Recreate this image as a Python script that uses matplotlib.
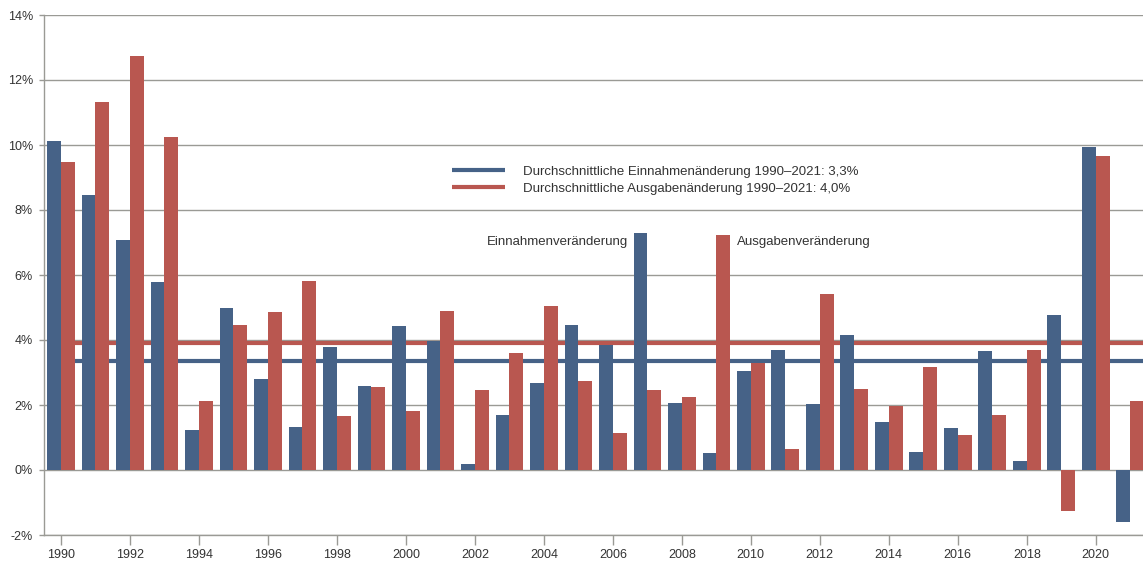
import numpy as np
import matplotlib
matplotlib.use('Agg')
import matplotlib.pyplot as plt
from matplotlib.ticker import FuncFormatter

plt.rcParams['font.family'] = ['Liberation Sans', 'DejaVu Sans']

# Data (percent change vs. previous year)
years = list(range(1990, 2022))
einnahmen = [10.12, 8.46, 7.08, 5.78, 1.23, 4.98, 2.80, 1.32, 3.78, 2.58,
             4.43, 3.97, 0.18, 1.69, 2.68, 4.46, 3.85, 7.29, 2.06, 0.52,
             3.05, 3.69, 2.03, 4.15, 1.48, 0.55, 1.29, 3.66, 0.28, 4.77,
             9.94, -1.60]
ausgaben = [9.48, 11.32, 12.74, 10.25, 2.12, 4.46, 4.86, 5.82, 1.66, 2.55,
            1.82, 4.89, 2.46, 3.60, 5.05, 2.74, 1.14, 2.46, 2.25, 7.23,
            3.29, 0.65, 5.42, 2.49, 1.97, 3.17, 1.08, 1.69, 3.69, -1.26,
            9.66, 2.12]
avg_einnahmen = 3.35
avg_ausgaben = 3.92
legend_labels = ['Durchschnittliche Einnahmenänderung 1990\u20132021: 3,3%',
                 'Durchschnittliche Ausgabenänderung 1990\u20132021: 4,0%']
yticks = [-2, 0, 2, 4, 6, 8, 10, 12, 14]
xticks = list(range(1990, 2021, 2))

BLUE = '#466287'
RED = '#B95750'
GRID = '#9a9a95'
TXT = '#333333'

fig = plt.figure(figsize=(11.43, 5.64), dpi=100)
ax = fig.add_axes([44 / 1143, 1 - 535 / 564, 1 - 44 / 1143, (535 - 15) / 564])

x = np.array(years, dtype=float)
w = 0.40
ax.bar(x - w, einnahmen, width=w, align='edge', color=BLUE, zorder=3)
ax.bar(x, ausgaben, width=w, align='edge', color=RED, zorder=3)

# average lines sit behind the bars
ax.plot([1990, 2022], [avg_einnahmen] * 2, color=BLUE, lw=3, zorder=2,
        solid_capstyle='butt', label=legend_labels[0])
ax.plot([1990, 2022], [avg_ausgaben] * 2, color=RED, lw=3, zorder=2,
        solid_capstyle='butt', label=legend_labels[1])

ax.set_xlim(1989.51, 2021.37)
ax.set_ylim(-2, 14)
ax.set_yticks(yticks)
ax.set_xticks(xticks)
ax.yaxis.set_major_formatter(FuncFormatter(lambda v, p: f'{int(v)}%'))
ax.grid(axis='y', color=GRID, lw=1.0, zorder=0)
ax.set_axisbelow(True)

for s in ['top', 'right']:
    ax.spines[s].set_visible(False)
for s in ['left', 'bottom']:
    ax.spines[s].set_color(GRID)
    ax.spines[s].set_linewidth(1.0)

ax.tick_params(axis='y', length=3.5, width=1.0, color=GRID, pad=4.5,
               labelsize=9, labelcolor=TXT)
ax.tick_params(axis='x', length=7, width=1.0, color=GRID, pad=3,
               labelsize=9, labelcolor=TXT)

leg = ax.legend(loc='upper left', bbox_to_anchor=(396 / 1099, 1 - 139 / 520),
                frameon=False, fontsize=9.5, handlelength=4.05, handletextpad=1.35,
                labelspacing=0.32, labelcolor=TXT)

ax.text(2006.43, 7.03, 'Einnahmenveränderung', ha='right', va='center',
        fontsize=9.5, color=TXT)
ax.text(2009.6, 7.03, 'Ausgabenveränderung', ha='left', va='center',
        fontsize=9.5, color=TXT)

fig.savefig('out.png', dpi=100, facecolor='white')
